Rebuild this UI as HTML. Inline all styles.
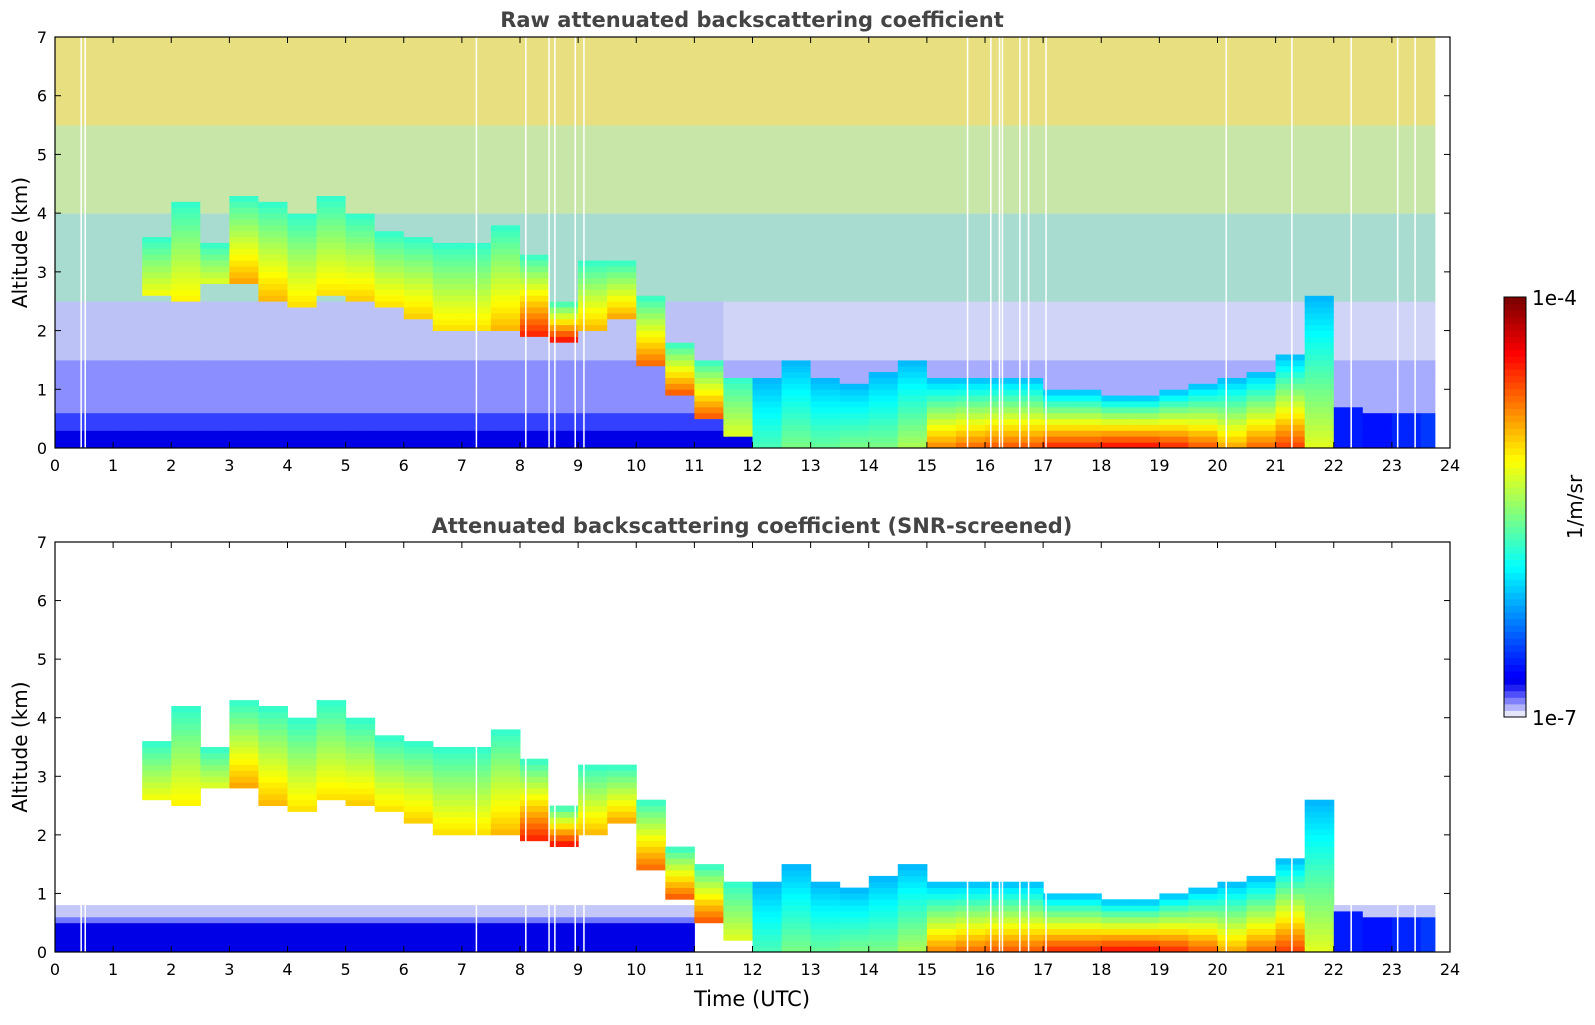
<!DOCTYPE html>
<html><head><meta charset="utf-8">
<style>
body{margin:0;background:#fff;}
svg text{font-family:"DejaVu Sans","Liberation Sans",sans-serif;}
</style></head>
<body>
<svg id="chart" width="1595" height="1020" xmlns="http://www.w3.org/2000/svg">
<text x="752" y="27" text-anchor="middle" font-size="21" font-weight="bold" fill="#444">Raw attenuated backscattering coefficient</text>
<text x="752" y="533" text-anchor="middle" font-size="21" font-weight="bold" fill="#444">Attenuated backscattering coefficient (SNR-screened)</text>
<g id="p1"></g>
<g id="p2"></g>
<text x="752" y="1006" text-anchor="middle" font-size="21">Time (UTC)</text>
<g id="cbar"></g>
</svg>
<script>
// half-hourly layer description (t = 0, 0.5, ... 23.5)
const layerBase = [9,9,9,2.6,2.5,2.8,2.8,2.5,2.4,2.6,2.5,2.4,2.2,2.0,2.0,2.0,1.9,1.8,2.0,2.2,1.4,0.9,0.5,0.2,0,0,0,0,0,0,0,0,0,0,0,0,0,0,0,0,0,0,0,0,0,0,0,0];
const layerTop  = [0,0,0,3.6,4.2,3.5,4.3,4.2,4.0,4.3,4.0,3.7,3.6,3.5,3.5,3.8,3.3,2.5,3.2,3.2,2.6,1.8,1.5,1.2,1.2,1.5,1.2,1.1,1.3,1.5,1.2,1.2,1.2,1.2,1.0,1.0,0.9,0.9,1.0,1.1,1.2,1.3,1.6,2.6,0.7,0.6,0.6,0.6];
const peakValue = [0,0,0,0.62,0.64,0.6,0.72,0.7,0.66,0.66,0.68,0.66,0.68,0.66,0.66,0.7,0.85,0.88,0.7,0.72,0.78,0.8,0.8,0.6,0.45,0.5,0.48,0.5,0.5,0.55,0.75,0.78,0.8,0.8,0.85,0.85,0.88,0.88,0.85,0.8,0.72,0.78,0.82,0.6,0.15,0.14,0.16,0.18];
const gapTimes = [0.45,0.52,7.25,8.1,8.5,8.6,8.95,9.1,15.7,16.1,16.25,16.3,16.6,16.75,17.05,20.15,21.28,22.3,23.1,23.4];
const xTicks = [0,1,2,3,4,5,6,7,8,9,10,11,12,13,14,15,16,17,18,19,20,21,22,23,24];
const yTicks = [0,1,2,3,4,5,6,7];

const X0=55,X1=1450,W=X1-X0;
const panels=[{g:'p1',top:37,bot:448,raw:true},{g:'p2',top:542,bot:952,raw:false}];
const NS='http://www.w3.org/2000/svg';
function el(tag,attrs,parent){const e=document.createElementNS(NS,tag);for(const k in attrs)e.setAttribute(k,attrs[k]);parent.appendChild(e);return e;}
function xs(t){return X0+t/24*W;}
function jet(v){v=Math.max(0,Math.min(1,v));
 const r=Math.min(1,Math.max(0,1.5-Math.abs(4*v-3))),g=Math.min(1,Math.max(0,1.5-Math.abs(4*v-2))),b=Math.min(1,Math.max(0,1.5-Math.abs(4*v-1)));
 return `rgb(${Math.round(r*255)},${Math.round(g*255)},${Math.round(b*255)})`;}
function bgRaw(h,t){
 if(h<0.3)return jet(0.1);
 if(h<0.6)return '#3440ff';
 if(h<1.5)return t>11?'#a8acff':'#8a8eff';
 if(h<2.5)return t>11?'#d0d4f6':'#bcc2f6';
 if(h<4)return '#a8dcd0';
 if(h<5.5)return '#c8e6a8';
 return '#e8e080';}
panels.forEach(p=>{
 const g=document.getElementById(p.g);
 const ys=h=>p.bot-h/7*(p.bot-p.top);
 const cell=el('g',{},g);
 
 
 const dh=0.1;
 for(let i=0;i<layerBase.length;i++){
  const t=i*0.5, x=xs(t), w=xs(t+0.5)-x+0.5;
  if(t>=23.75) continue;
  const ww = (t+0.5>23.75)? xs(23.75)-x : w;
  for(let j=0;j<70;j++){
   const h=j*dh+dh/2;
   let c=null;
   const b=layerBase[i],tp=layerTop[i],pk=peakValue[i];
   if(h>=b&&h<=tp){
     const f=(h-b)/Math.max(0.2,tp-b);
     const lo=Math.min(pk,b===0?0.3:0.42);
     const v=pk-(pk-lo)*f;
     c=jet(v);
   } else if(p.raw){ c=bgRaw(h,t); }
   else if(t<11 && h<0.8){ c= h<0.5? jet(0.1) : (h<0.65?'#6f78ff':'#c4c8f8'); }
   else if(t>=21.5 && h<0.8){ c= h<0.45? jet(0.12) : '#c4c8f8'; }
   if(!c) continue;
   el('rect',{x:x.toFixed(1),y:ys(h+dh/2).toFixed(1),width:ww.toFixed(1),height:(ys(0)-ys(dh)+0.4).toFixed(1),fill:c},cell);
  }
 }
 gapTimes.forEach(gt=>{
  const l=el('line',{x1:xs(gt),x2:xs(gt),y1:p.raw?p.top:ys(3.5),y2:p.bot,stroke:'#fff','stroke-width':1.5},g);
  
  
 });
 if(p.raw){el('rect',{x:xs(23.75),y:p.top,width:X1-xs(23.75),height:p.bot-p.top,fill:'#fff'},g);}
 const frame=el('rect',{x:X0,y:p.top,width:W,height:p.bot-p.top,fill:'none',stroke:'#000','stroke-width':1.2},g);
 
 
 xTicks.forEach(v=>{
  const x=xs(v);
  el('line',{x1:x,x2:x,y1:p.bot,y2:p.bot-6,stroke:'#000'},g);
  el('line',{x1:x,x2:x,y1:p.top,y2:p.top+6,stroke:'#000'},g);
  const tx=el('text',{x:x,y:p.bot+23,'text-anchor':'middle','font-size':16},g);
  tx.textContent=v;
  
  
 });
 yTicks.forEach(v=>{
  const y=ys(v);
  el('line',{x1:X0,x2:X0+6,y1:y,y2:y,stroke:'#000'},g);
  el('line',{x1:X1,x2:X1-6,y1:y,y2:y,stroke:'#000'},g);
  const tx=el('text',{x:X0-8,y:y+6,'text-anchor':'end','font-size':16},g);
  tx.textContent=v;
  
  
 });
 const yl=el('text',{x:0,y:0,transform:`translate(27,${(p.top+p.bot)/2}) rotate(-90)`,'text-anchor':'middle','font-size':20},g);
 yl.textContent='Altitude (km)';
 
 
});
// colorbar
const cb=document.getElementById('cbar');
const CT=297,CB=717,N=64;
for(let k=0;k<N;k++){
 let c;
 if(k<5){c=['#e6e6fb','#b3b3fb','#8080fb','#5050fb','#2020f0'][k];} else c=jet(0.11+0.89*(k-5)/(N-6));
 el('rect',{x:1504,y:CB-(k+1)*(CB-CT)/N,width:22,height:(CB-CT)/N+0.5,fill:c},cb);
}
el('rect',{x:1504,y:CT,width:22,height:CB-CT,fill:'none',stroke:'#000','stroke-width':1},cb);
const t1=el('text',{x:1532,y:CT+8,'font-size':20},cb);t1.textContent='1e-4';


const t2=el('text',{x:1532,y:CB+8,'font-size':20},cb);t2.textContent='1e-7';


const t3=el('text',{x:0,y:0,transform:'translate(1582,507) rotate(-90)','text-anchor':'middle','font-size':20},cb);t3.textContent='1/m/sr';


</script>
</body></html>
